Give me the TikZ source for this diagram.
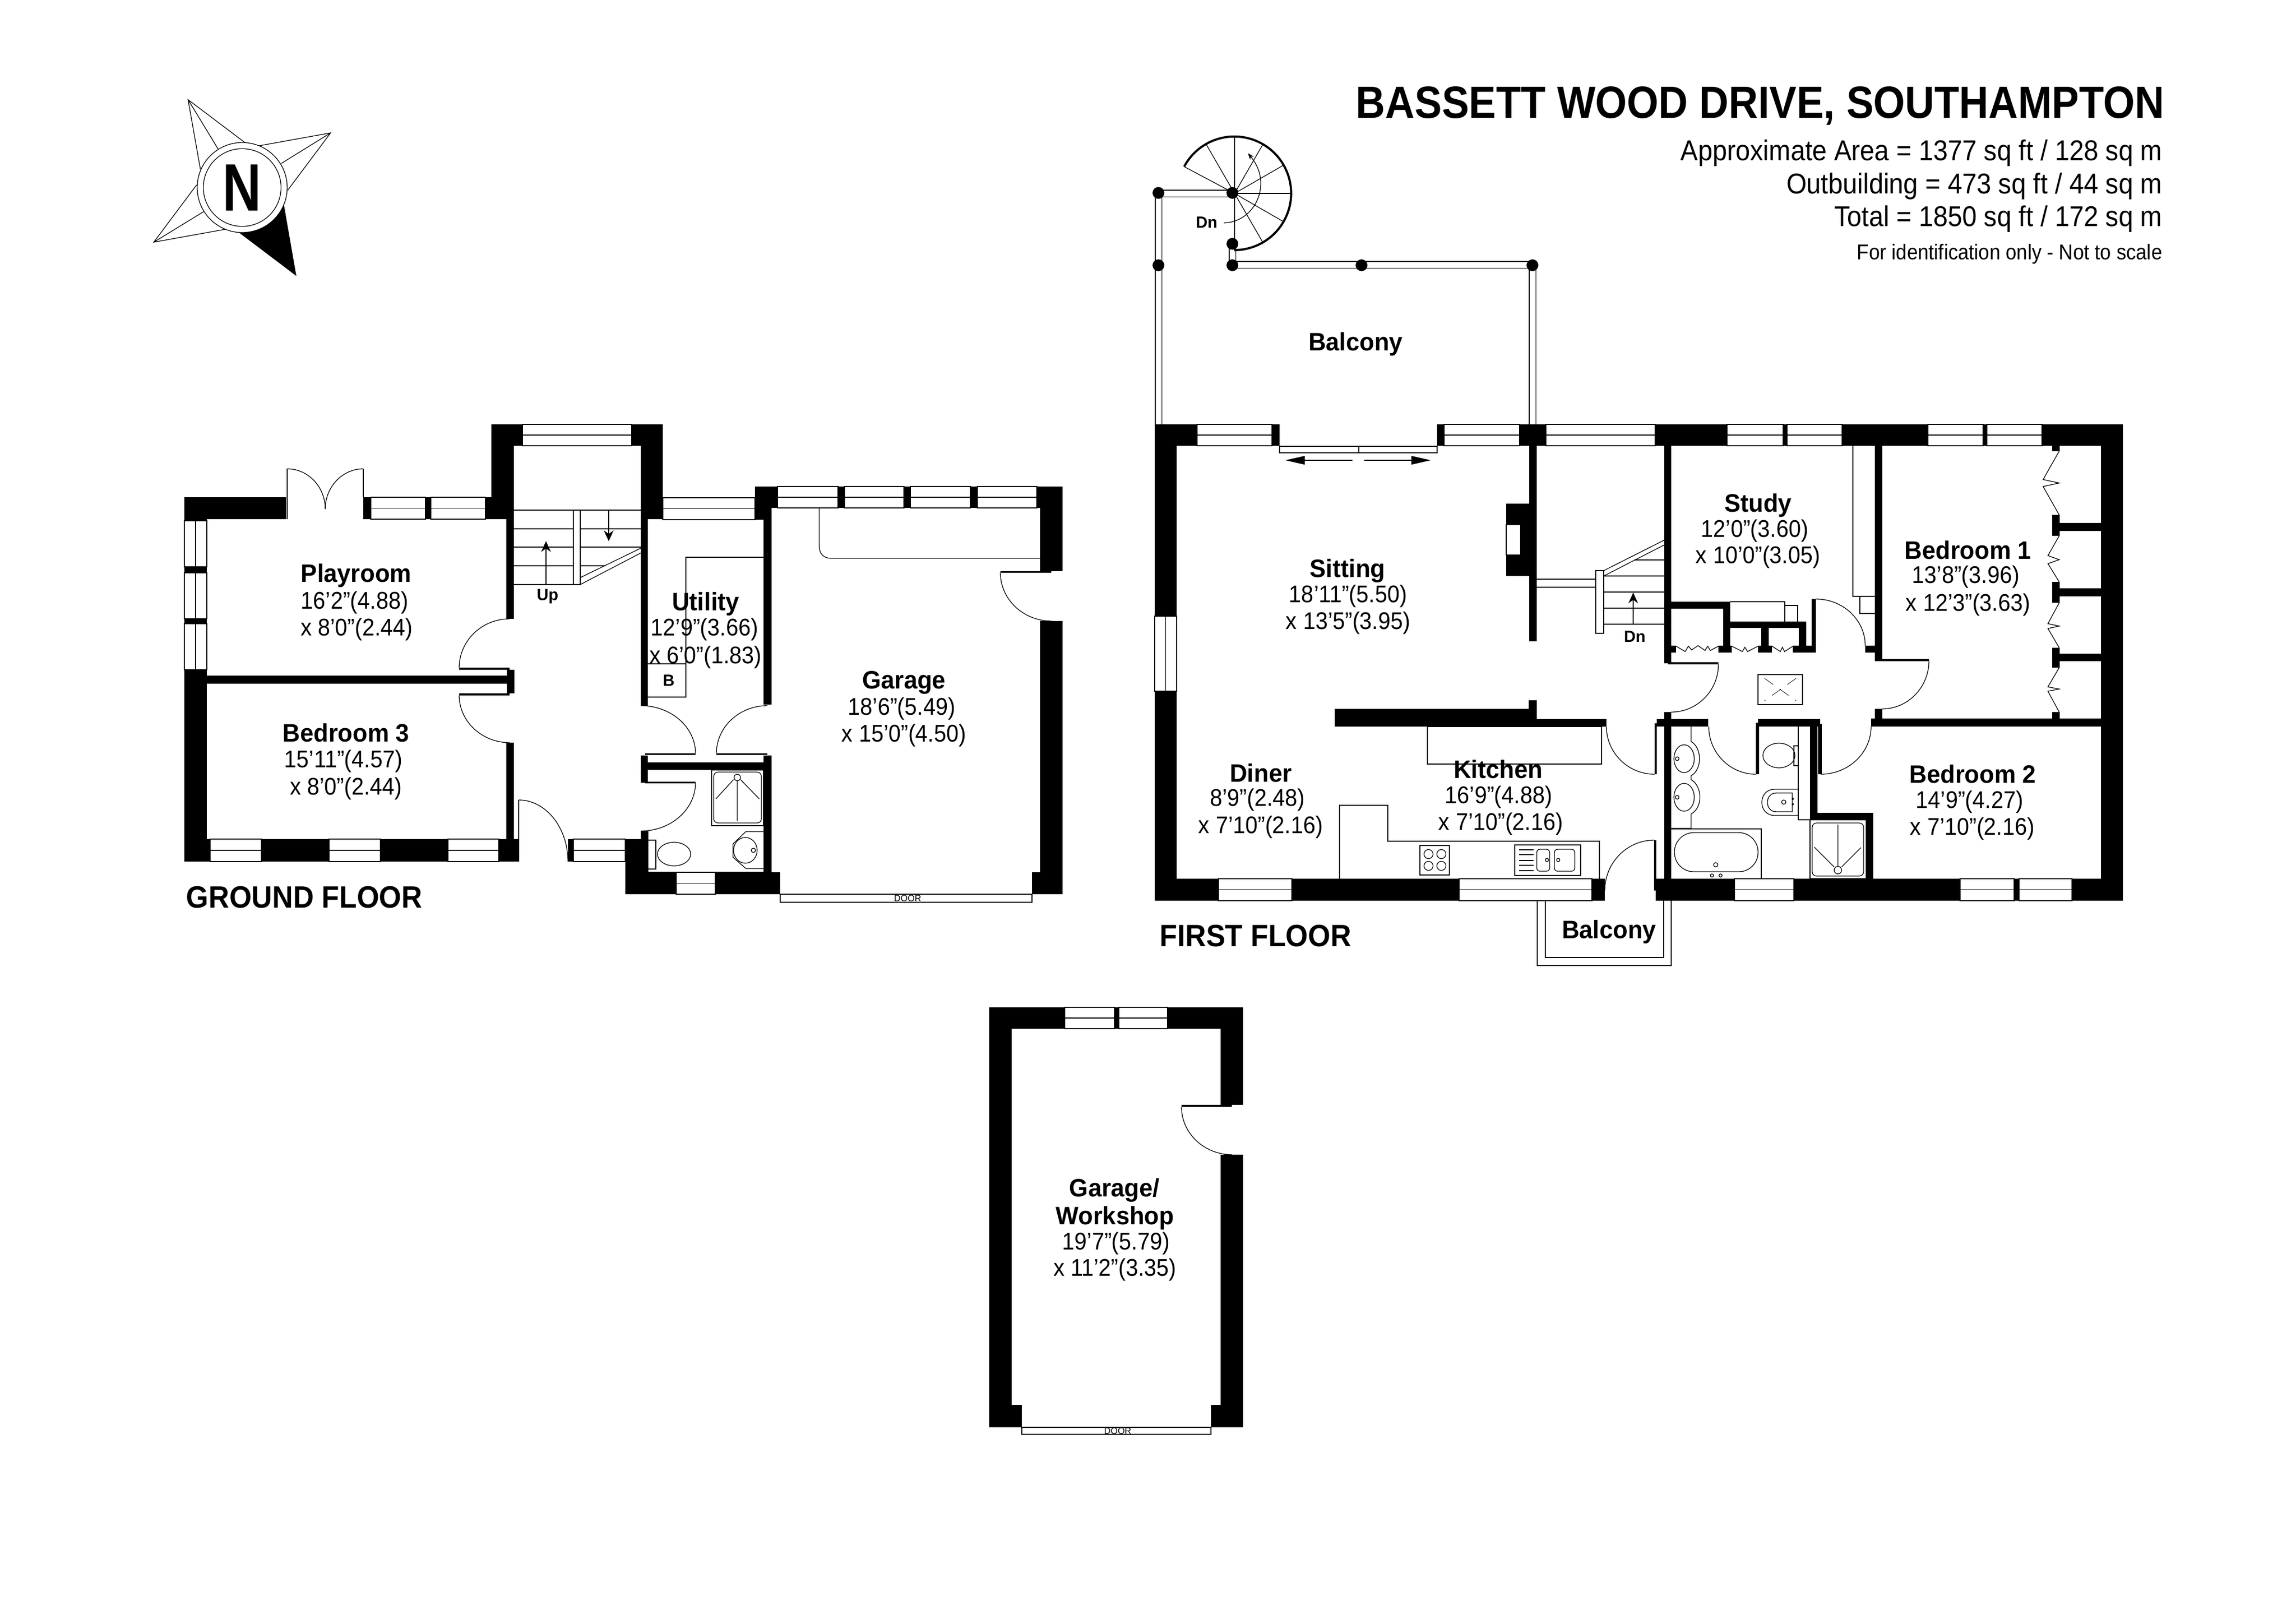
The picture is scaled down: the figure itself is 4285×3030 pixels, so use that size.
\documentclass[tikz,border=0pt]{standalone}
\usepackage{fontspec}
\setmainfont{Liberation Sans}
\newfontfamily\headfont[FakeStretch=.9]{Liberation Sans}
\newfontfamily\areafont[FakeStretch=.91]{Liberation Sans}
\newfontfamily\northfont[FakeStretch=.8]{Liberation Sans}
\newfontfamily\namefont[FakeStretch=.96]{Liberation Sans}
\newfontfamily\sizefont[FakeStretch=.92]{Liberation Sans}
\newfontfamily\floorfont[FakeStretch=.93]{Liberation Sans}
\usetikzlibrary{
    arrows.meta,
    positioning
}

\tikzset{
    roomname/.style={inner sep=0pt, font=\fontsize{13.4}{14}\selectfont\bfseries\namefont},
    roomsize/.style={inner sep=0pt, font=\fontsize{12.8}{13}\selectfont\sizefont},
    floorname/.style={inner sep=0pt, anchor=west, font=\fontsize{16.4}{17}\selectfont\bfseries\floorfont},
    stairname/.style={inner sep=0pt, font=\fontsize{8.6}{9}\selectfont\bfseries},
    doorname/.style={inner sep=0pt, font=\fontsize{4.8}{5}\selectfont},
    arealine/.style={inner sep=0pt, anchor=east, font=\fontsize{15.2}{16}\selectfont\areafont},
    glazing/.style={draw, fill=white},
    rail/.style={draw=black, double=white, double distance=1.1mm, line width=.13mm},
    stairtip/.style={-{Stealth[length=2mm, width=1.8mm]}},
    slidetip/.style={-{Triangle[length=3.6mm, width=1.6mm]}}
}

\begin{document}
\begin{tikzpicture}[x=.1mm, y=-.1mm, line width=.13mm]
    \useasboundingbox (0,0) rectangle (4285,3030);

    % compass
    \fill (530,383) -- (553,515) -- (446,434) -- cycle;
    \draw (374,316) -- (351,186) -- (457,266) (407,278) -- (351,186);
    \draw (367,345) -- (287,452) -- (420,428) (380,395) -- (287,452);
    \draw (484,272) -- (617,248) -- (537,355) (525,305) -- (617,248);
    \draw[fill=white] (452,350) circle [radius=84];
    \draw[fill=white] (452,350) circle [radius=72.5];
    \node[inner sep=0pt, font=\fontsize{35.6}{36}\selectfont\bfseries\northfont] (north) at (452,350) {N};

    % title
    \node[inner sep=0pt, anchor=east, font=\fontsize{24}{25}\selectfont\bfseries\headfont] (title) at (4040,198) {BASSETT WOOD DRIVE, SOUTHAMPTON};
    \node[arealine] (area) at (4036,286) {Approximate Area = 1377 sq ft / 128 sq m};
    \node[arealine] (outb) at (4036,348) {Outbuilding = 473 sq ft / 44 sq m};
    \node[arealine] (total) at (4036,409) {Total  = 1850 sq ft / 172 sq m};
    \node[arealine, font=\fontsize{11.4}{12}\selectfont\areafont] (scale) at (4036,474) {For identification only - Not to scale};

    % ground floor and garage walls
    \foreach \xa/\ya/\xb/\yb in {
        344/928/534/969, 678/928/959/969, 344/969/386/1608, 386/1261/946/1276,
        857/1246/951/1250, 857/1294/951/1298, 946/1250/960/1294,
        945/969/959/1155, 945/1386/959/1566, 344/1566/969/1608, 967/1493/969/1566,
        1060/1566/1210/1608, 917/792/975/832, 917/832/959/969, 1179/792/1237/832,
        1196/832/1237/969, 1196/969/1209/1317, 1196/1410/1209/1461, 1196/1551/1210/1628,
        1167/1608/1210/1669, 1204/1406/1298/1409, 1204/1459/1298/1462, 1209/1423/1425/1437,
        1210/1628/1456/1669, 1409/908/1983/948, 1409/948/1425/970, 1425/948/1440/1315,
        1337/1406/1432/1409, 1425/1410/1440/1628, 1440/1628/1456/1669,
        1941/948/1983/1066, 1867/1066/1962/1069, 1941/1159/1983/1669, 1926/1628/1941/1669
    }{
        \fill (\xa,\ya) rectangle (\xb,\yb);
    }

    % first floor walls
    \foreach \xa/\ya/\xb/\yb in {
        2155/792/2388/832, 2682/792/3962/832, 2155/832/2196/1681, 3921/832/3962/1681,
        2155/1640/2995/1681, 3090/1640/3962/1681, 2854/832/2868/1197,
        2811/940/2854/1075, 3106/832/3119/1238, 3113/1236/3207/1240,
        3106/1329/3119/1640, 3092/1342/3188/1356, 3088/1350/3092/1445,
        3281/1342/3397/1356, 3277/1349/3283/1445, 3393/1351/3400/1445,
        3378/1356/3392/1530, 3378/1517/3496/1530, 3483/1530/3496/1640,
        3492/1341/3921/1356, 3499/1323/3513/1341, 3499/832/3513/1230,
        3499/1230/3600/1234, 3481/1205/3499/1218, 3119/1123/3229/1136,
        3216/1136/3229/1218, 3229/1160/3371/1172, 3287/1172/3301/1218,
        3357/1172/3371/1218, 3106/1205/3128/1218, 3207/1205/3232/1218,
        3281/1205/3307/1218, 3346/1205/3389/1218, 3381/1118/3389/1205,
        3843/976/3921/991, 3843/1098/3921/1113, 3843/1220/3921/1234,
        3830/832/3844/842, 3830/961/3844/1000, 3830/1086/3844/1125,
        3830/1209/3844/1246, 3830/1329/3844/1341, 3087/1568/3091/1662
    }{
        \fill (\xa,\ya) rectangle (\xb,\yb);
    }
    \fill (2491,1323) -- (2853,1323) -- (2853,1307) -- (2868,1307) -- (2868,1342)
        -- (2998,1342) -- (2998,1356) -- (2491,1356) -- cycle;

    % garage/workshop walls
    \foreach \xa/\ya/\xb/\yb in {
        1846/1880/2320/1920, 1846/1920/1888/2664, 1888/2622/1907/2664,
        2278/1920/2320/2062, 2205/2062/2299/2066, 2278/2155/2320/2664, 2260/2622/2278/2664
    }{
        \fill (\xa,\ya) rectangle (\xb,\yb);
    }

    % windows
    \foreach \xa/\ya/\xb/\yb in {
        692/928/794/969, 804/928/906/969, 975/792/1179/832, 392/1566/488/1608,
        614/1566/710/1608, 836/1566/931/1608, 1070/1566/1167/1608, 1237/929/1409/970,
        1262/1628/1335/1669, 1451/908/1564/948, 1576/908/1687/948, 1699/908/1811/948,
        1824/908/1935/948, 2234/792/2374/832, 2695/792/2836/832, 2885/792/3089/832,
        3223/792/3328/832, 3335/792/3438/832, 3598/792/3701/832, 3708/792/3811/832,
        2274/1640/2411/1681, 2723/1640/2971/1681, 3237/1640/3348/1681,
        3658/1640/3759/1681, 3768/1640/3867/1681, 1987/1880/2080/1920, 2088/1880/2179/1920
    }{
        \draw[glazing] (\xa,\ya) rectangle (\xb,\yb);
        \draw (\xa,{(\ya+\yb)/2}) -- (\xb,{(\ya+\yb)/2});
    }
    \foreach \xa/\ya/\xb/\yb in {
        344/972/386/1058, 344/1069/386/1155, 344/1164/386/1250, 2155/1150/2196/1290
    }{
        \draw[glazing] (\xa,\ya) rectangle (\xb,\yb);
        \draw ({(\xa+\xb)/2},\ya) -- ({(\xa+\xb)/2},\yb);
    }
    \draw[glazing] (2811,979) rectangle (2838,1036);

    % door swings
    \foreach \xa/\ya/\xb/\yb in {
        857/1246/951/1155, 857/1298/951/1386, 607/950/536/875, 607/950/678/875,
        1060/1608/968/1493, 1298/1406/1196/1317, 1298/1461/1196/1551, 1337/1406/1432/1317,
        1867/1069/1962/1159, 2998/1356/3088/1445, 2995/1662/3087/1568, 3207/1240/3119/1329,
        3189/1356/3277/1445, 3492/1356/3398/1445, 3481/1205/3389/1118, 3600/1233/3513/1323,
        2205/2066/2299/2155
    }{
        \draw (\xa,\ya) .. controls (\xa,{\ya+.55*(\yb-\ya)}) and ({\xb-.55*(\xb-\xa)},\yb) .. (\xb,\yb);
    }
    \draw (536,875) -- (536,969) (678,875) -- (678,928);

    % ground floor stairs
    \foreach \y in {952,987,1021,1056,1091}{
        \draw (959,\y) -- (1070,\y);
    }
    \foreach \y in {952,987,1021}{
        \draw (1083,\y) -- (1196,\y);
    }
    \draw (1083,1056) -- (1130,1056);
    \draw[glazing] (1070,952) rectangle (1083,1091);
    \draw (1083,1078) -- (1196,1023) (1083,1091) -- (1196,1032);
    \draw[stairtip] (1019,1091) -- (1019,1010);
    \draw[stairtip] (1136,952) -- (1136,1010);
    \node[stairname] (up) at (1022,1113) {Up};

    % ground floor fittings
    \draw (1425,1040) -- (1280,1040) -- (1280,1301) -- (1209,1301) (1209,1239) -- (1280,1239);
    \node[stairname] (boiler) at (1248,1270) {B};
    \draw (1210,1628) -- (1425,1628);
    \draw (1328,1437) rectangle (1425,1541);
    \draw[rounded corners=.8mm] (1332,1441) rectangle (1421,1536);
    \draw (1376,1451) circle [radius=6] (1376,1457) -- (1376,1532);
    \draw (1369,1455) -- (1336,1491) (1382,1455) -- (1417,1491);
    \draw (1425,1552) -- (1392,1552) -- (1368,1575) -- (1368,1600) -- (1392,1621) -- (1425,1621);
    \draw (1391,1587) circle [x radius=22, y radius=24] (1406,1587) circle [radius=4];
    \draw (1209,1568) rectangle (1224,1622);
    \draw (1258,1594) circle [x radius=31, y radius=22];
    \draw (1529,948) -- (1529,1020) .. controls (1529,1034) and (1538,1042) .. (1551,1042) -- (1941,1042);
    \draw[glazing] (1456,1669) rectangle (1926,1684);
    \node[doorname] (gdoor) at (1694,1677) {DOOR};

    % balcony rails and spiral stair
    \draw[rail] (2300,361) -- (2162,361) -- (2162,792);
    \draw[rail] (2300,455) -- (2300,494) -- (2860,494) -- (2860,792);
    \draw[line width=.4mm] (2210,311) arc [start angle=-152, end angle=90, radius=106];
    \foreach \a in {152,120,90,60,30,0,-30,-60,-90}{
        \draw (2304,361) -- ++({106*cos(\a)},{-106*sin(\a)});
    }
    \foreach \x/\y in {2162/360, 2162/495, 2300/360, 2300/455, 2300/495, 2541/495, 2860/495}{
        \fill (\x,\y) circle [radius=11];
    }
    \draw[-{Stealth[length=1.2mm, width=.9mm]}] (2284,416) .. controls (2325,415) and (2353,380) .. (2353,342)
        .. controls (2353,320) and (2343,303) .. (2329,286);
    \node[stairname] (spiraldn) at (2252,415) {Dn};

    % sliding doors
    \draw[glazing] (2388,833) rectangle (2536,845);
    \draw[glazing] (2536,833) rectangle (2682,845);
    \draw[slidetip] (2524,859) -- (2399,859);
    \draw[slidetip] (2546,859) -- (2670,859);

    % first floor stairs
    \foreach \y in {1075,1105,1135,1165}{
        \draw (2993,\y) -- (3106,\y);
    }
    \draw (3050,1045) -- (3106,1045);
    \draw (2868,1081) -- (2978,1081) (2868,1096) -- (2978,1096);
    \draw[glazing] (2978,1065) rectangle (2993,1182);
    \draw (2993,1065) -- (3106,1008) (2993,1075) -- (3106,1017);
    \draw[stairtip] (3048,1165) -- (3048,1106);
    \node[stairname] (stairdn) at (3051,1188) {Dn};

    % kitchen
    \draw (2664,1356) rectangle (2989,1426);
    \draw (2500,1640) -- (2500,1503) -- (2590,1503) -- (2590,1570) -- (2985,1570) -- (2985,1640);
    \draw (2650,1578) rectangle (2705,1633);
    \foreach \x in {2666,2690}{
        \foreach \y in {1594,1616}{
            \draw (\x,\y) circle [radius=8.5];
        }
    }
    \draw (2827,1577) rectangle (2950,1634);
    \foreach \y in {1586,1595,1606,1615,1625}{
        \draw (2835,\y) -- (2862,\y);
    }
    \draw[rounded corners=.6mm] (2868,1585) rectangle (2892,1626);
    \draw[rounded corners=.6mm] (2901,1585) rectangle (2939,1626);
    \draw (2887,1605) circle [radius=3] (2908,1605) circle [radius=3];
    \draw (2869,1681) -- (2869,1802) -- (3119,1802) -- (3119,1681);
    \draw (2884,1681) -- (2884,1787) -- (3105,1787) -- (3105,1681);

    % bathroom
    \draw (3156,1356) -- (3156,1384) .. controls (3176,1395) and (3178,1435) .. (3156,1448) -- (3156,1455)
        .. controls (3178,1468) and (3178,1508) .. (3156,1519) -- (3156,1546) -- (3119,1546);
    \foreach \y in {1416,1488}{
        \draw (3143,\y) circle [x radius=19, y radius=26] (3130,\y) circle [radius=3.5];
    }
    \draw (3119,1547) -- (3287,1547) -- (3287,1640);
    \draw[rounded corners=3.6mm] (3125,1554) rectangle (3281,1627);
    \draw (3202,1614) circle [radius=4] (3195,1634) circle [radius=3] (3211,1634) circle [radius=3];
    \draw (3356,1356) -- (3356,1530) -- (3378,1530);
    \draw (3320,1410) circle [x radius=30, y radius=23];
    \draw (3348,1392) rectangle (3356,1429);
    \draw (3356,1473) -- (3312,1473) .. controls (3280,1473) and (3280,1522) .. (3312,1522) -- (3356,1522);
    \draw (3345,1480) -- (3315,1480) .. controls (3293,1480) and (3293,1515) .. (3315,1515) -- (3345,1515) -- cycle;
    \draw (3329,1497) circle [radius=4] (3346,1491) circle [radius=1.5] (3346,1501) circle [radius=1.5];
    \draw (3378,1530) rectangle (3483,1640);
    \draw[rounded corners=.8mm] (3382,1536) rectangle (3478,1635);
    \draw (3430,1624) circle [radius=7] (3430,1617) -- (3430,1539);
    \draw (3423,1618) -- (3386,1581) (3437,1618) -- (3473,1582);

    % cupboards and wardrobes
    \draw (3128,1206) -- (3145,1216) -- (3151,1206) -- (3157,1213) -- (3169,1205) -- (3182,1214) -- (3187,1206) -- (3192,1214) -- (3207,1206);
    \foreach \x/\w in {3232/49,3307/39}{
        \draw (\x,1206) -- ({\x+\w*.4},1216) -- ({\x+\w*.5},1208) -- ({\x+\w*.6},1216) -- ({\x+\w},1206);
    }
    \draw (3229,1123) -- (3331,1123) -- (3331,1160);
    \draw (3331,1130) -- (3355,1130) -- (3355,1160);
    \draw (3458,832) -- (3458,1113) -- (3499,1113) (3471,1113) -- (3471,1145) -- (3499,1145);
    \foreach \ya/\yb/\yc/\yd/\xm in {842/895/908/961/3813, 1000/1037/1052/1086/3822, 1125/1164/1173/1209/3822, 1246/1282/1290/1329/3822}{
        \draw (3843,\ya) -- (\xm,\yb) -- (3843,{(\yb+\yc)/2}) -- (\xm,\yc) -- (3843,\yd);
    }
    \draw (3281,1259) rectangle (3364,1315);
    \draw[line width=.08mm, dash pattern=on 2mm off 1.5mm] (3293,1266) -- (3352,1308) (3352,1266) -- (3293,1308);

    % garage/workshop door
    \draw[glazing] (1907,2664) rectangle (2260,2677);
    \node[doorname] (wdoor) at (2086,2671) {DOOR};

    % labels ground floor
    \node[roomname] (playroom) at (665,1074) {Playroom};
    \node[roomsize] (playroomlen) at (662,1125) {16’2”(4.88)};
    \node[roomsize] (playroomwid) at (666,1175) {x 8’0”(2.44)};
    \node[roomname] (bedthree) at (646,1368) {Bedroom 3};
    \node[roomsize] (bedthreelen) at (641,1421) {15’11”(4.57)};
    \node[roomsize] (bedthreewid) at (646,1472) {x 8’0”(2.44)};
    \node[roomname] (utility) at (1317,1127) {Utility};
    \node[roomsize] (utilitylen) at (1315,1175) {12’9”(3.66)};
    \node[roomsize] (utilitywid) at (1317,1227) {x 6’0”(1.83)};
    \node[roomname] (garage) at (1687,1274) {Garage};
    \node[roomsize] (garagelen) at (1683,1323) {18’6”(5.49)};
    \node[roomsize] (garagewid) at (1687,1373) {x 15’0”(4.50)};
    \node[floorname] (groundfloor) at (347,1675) {GROUND FLOOR};

    % labels first floor
    \node[roomname] (balconytop) at (2530,642) {Balcony};
    \node[roomname] (sitting) at (2515,1065) {Sitting};
    \node[roomsize] (sittinglen) at (2516,1113) {18’11”(5.50)};
    \node[roomsize] (sittingwid) at (2516,1163) {x 13’5”(3.95)};
    \node[roomname] (diner) at (2353,1443) {Diner};
    \node[roomsize] (dinerlen) at (2347,1493) {8’9”(2.48)};
    \node[roomsize] (dinerwid) at (2353,1544) {x 7’10”(2.16)};
    \node[roomname] (kitchen) at (2796,1436) {Kitchen};
    \node[roomsize] (kitchenlen) at (2797,1488) {16’9”(4.88)};
    \node[roomsize] (kitchenwid) at (2801,1538) {x 7’10”(2.16)};
    \node[roomname] (balconyfront) at (3003,1739) {Balcony};
    \node[roomname] (study) at (3281,943) {Study};
    \node[roomsize] (studylen) at (3275,991) {12’0”(3.60)};
    \node[roomsize] (studywid) at (3281,1040) {x 10’0”(3.05)};
    \node[roomname] (bedone) at (3673,1027) {Bedroom 1};
    \node[roomsize] (bedonelen) at (3669,1077) {13’8”(3.96)};
    \node[roomsize] (bedonewid) at (3673,1129) {x 12’3”(3.63)};
    \node[roomname] (bedtwo) at (3682,1445) {Bedroom 2};
    \node[roomsize] (bedtwolen) at (3676,1497) {14’9”(4.27)};
    \node[roomsize] (bedtwowid) at (3681,1547) {x 7’10”(2.16)};
    \node[floorname] (firstfloor) at (2164,1747) {FIRST FLOOR};

    % labels garage/workshop
    \node[roomname] (workone) at (2080,2221) {Garage/};
    \node[roomname] (worktwo) at (2081,2273) {Workshop};
    \node[roomsize] (worklen) at (2083,2321) {19’7”(5.79)};
    \node[roomsize] (workwid) at (2081,2370) {x 11’2”(3.35)};
\end{tikzpicture}
\end{document}
